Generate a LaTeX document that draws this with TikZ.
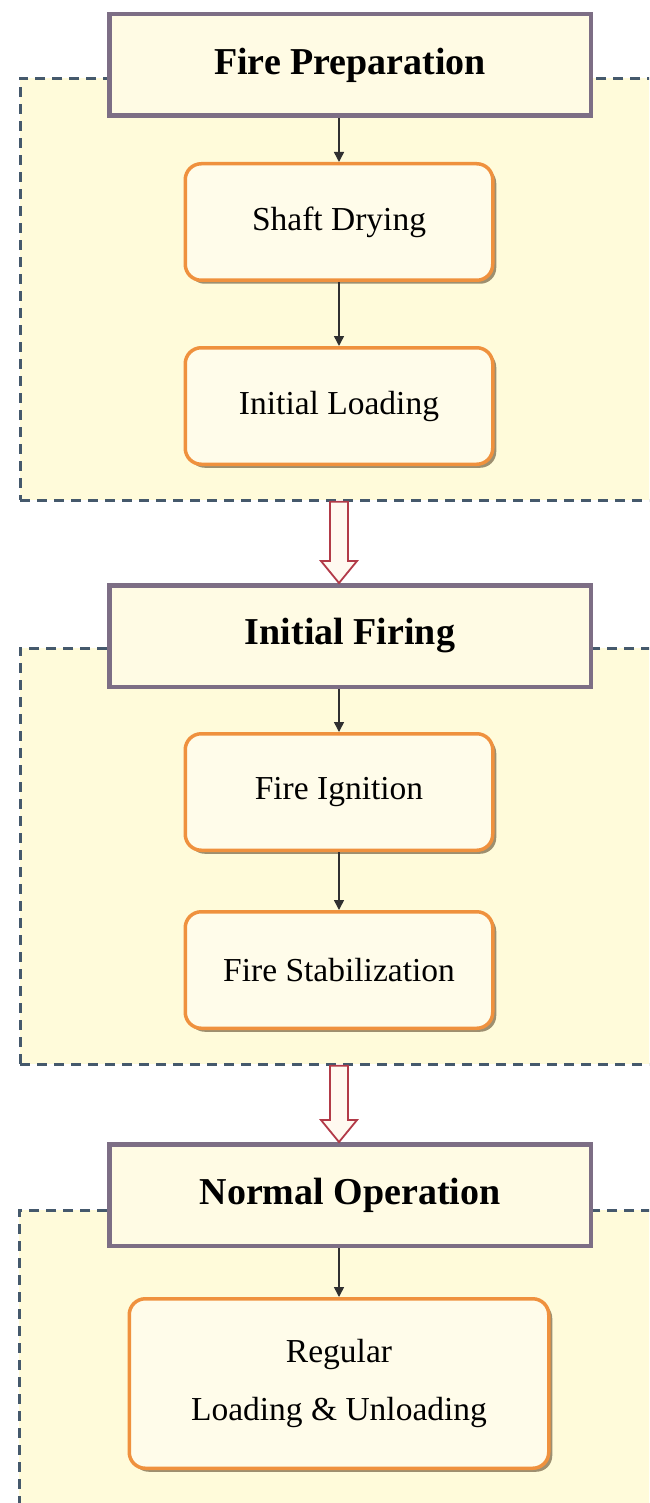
\documentclass[tikz,border=0pt]{standalone}
\usepackage{fontspec}
\setmainfont{Liberation Serif}
\usetikzlibrary{shadows,calc,arrows.meta}
\definecolor{hdrline}{HTML}{7D6E85}
\definecolor{hdrfill}{HTML}{FFFBE4}
\definecolor{grpline}{HTML}{45596C}
\definecolor{grpfill}{HTML}{FFFBDA}
\definecolor{stepline}{HTML}{EF913E}
\definecolor{stepfill}{HTML}{FFFCEA}
\definecolor{stepshade}{HTML}{8C7D5E}
\definecolor{blockline}{HTML}{B23A48}
\definecolor{blockfill}{HTML}{FFF9F0}
\definecolor{connline}{HTML}{303030}

\tikzset{
  phasebox/.style={draw=hdrline, line width=4.5pt, fill=hdrfill,
    minimum width=481.5pt, minimum height=101.5pt, inner sep=0pt,
    font=\fontsize{38}{42}\selectfont\bfseries},
  stepbox/.style={draw=stepline, line width=3.5pt, fill=stepfill,
    rounded corners=16pt, minimum width=307.5pt, minimum height=116.5pt,
    inner sep=0pt, font=\fontsize{33.5}{40}\selectfont,
    drop shadow={shadow xshift=3.5pt, shadow yshift=-3.5pt, fill=stepshade, opacity=0.85}},
  groupbox/.style={draw=grpline, line width=2.8pt, dash pattern=on 10pt off 7pt,
    fill=grpfill, anchor=north west, inner sep=0pt},
  conn/.style={draw=connline, line width=1.5pt, -{Triangle[length=10pt,width=10pt]}},
  hollow/.style={draw=blockline, line width=1.8pt, fill=blockfill, line join=miter}
}

% hollow block arrow pointing down from #1 to #2
\newcommand\hollowdown[2]{%
  \draw[hollow] ($(#1)+(-9,0)$) -- ($(#2)+(-9,-22)$) -- ($(#2)+(-18,-22)$)
    -- (#2) -- ($(#2)+(18,-22)$) -- ($(#2)+(9,-22)$) -- ($(#1)+(9,0)$) -- cycle;}

\begin{document}
\begin{tikzpicture}[x=1pt,y=-1pt]
\useasboundingbox (0,0) rectangle (649,1503);
\clip (0,0) rectangle (649,1503);
\fill[white] (0,0) rectangle (649,1503);

% dashed phase regions
\node[groupbox, minimum width=660pt, minimum height=422pt] (g1) at (19,77) {};
\node[groupbox, minimum width=660pt, minimum height=416pt] (g2) at (19,647) {};
\node[groupbox, minimum width=660pt, minimum height=400pt] (g3) at (18,1209) {};

% phase headers
\node[phasebox] (h1) at (350,65) {Fire Preparation};
\node[phasebox] (h2) at (350,636) {Initial Firing};
\node[phasebox] (h3) at (350,1195) {Normal Operation};

% steps
\node[stepbox] (s1) at (339,222) {Shaft Drying};
\node[stepbox] (s2) at (339,406) {Initial Loading};
\node[stepbox] (s3) at (339,792) {Fire Ignition};
\node[stepbox] (s4) at (339,970) {Fire Stabilization};
\node[stepbox, minimum width=419.5pt, minimum height=169.5pt, align=center]
  (s5) at (339,1383.5) {Regular\\[18pt]Loading \& Unloading};

% connectors inside each phase
\draw[conn] (h1.south -| s1.north) -- (s1.north);
\draw[conn] (s1.south) -- (s2.north);
\draw[conn] (h2.south -| s3.north) -- (s3.north);
\draw[conn] (s3.south) -- (s4.north);
\draw[conn] (h3.south -| s5.north) -- (s5.north);

% transitions between phases
\coordinate (f1) at (g1.south -| s2.south);
\coordinate (t1) at (h2.north -| s2.south);
\coordinate (f2) at (g2.south -| s4.south);
\coordinate (t2) at (h3.north -| s4.south);
\hollowdown{f1}{t1}
\hollowdown{f2}{t2}
\end{tikzpicture}
\end{document}
